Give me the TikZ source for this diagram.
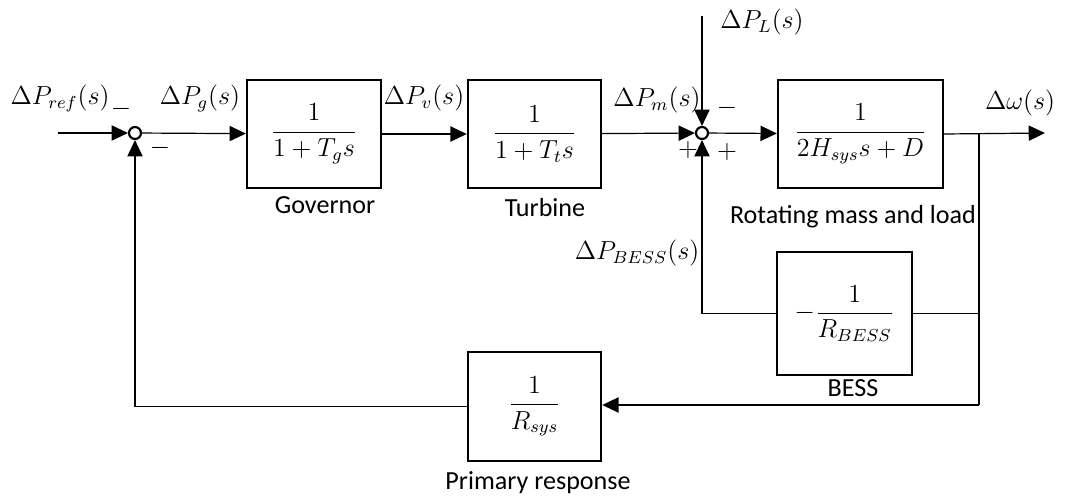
\documentclass[tikz,border=0pt]{standalone}
\usepackage{amsmath}
\usepackage{fontspec}
\setmainfont{Carlito}
\usepackage{tikz}
\usetikzlibrary{arrows.meta, positioning, calc}

\tikzset{
    block/.style={draw, line width=1.1pt, inner sep=0pt, font=\large},
    sumnode/.style={draw, circle, line width=1pt, minimum size=5.5pt, inner sep=0pt},
    sig/.style={line width=0.55pt},
    arr/.style={sig, -{Triangle[length=7.5pt, width=7pt]}},
    lbl/.style={font=\large, inner sep=0pt}
}

\begin{document}
\begin{tikzpicture}[x=0.46pt, y=-0.46pt]
    \useasboundingbox (0,0) rectangle (1068,497);

    % Summing points and signal ends
    \node[sumnode] (Sum1) at (135,133) {};
    \node[sumnode] (Sum2) at (702,133) {};
    \coordinate (Ref) at (58,133);
    \coordinate (Load) at (702,16);
    \coordinate (Out) at (1045,133);
    \coordinate (Tap) at (979,133);
    \coordinate (TapLow) at (979,405);

    % Blocks
    \node[block, minimum width=61.6pt, minimum height=49.7pt] (Gov) at (314,134) {$\dfrac{1}{1+T_g s}$};
    \node[block, minimum width=61.2pt, minimum height=49.7pt] (Turb) at (534.5,134) {$\dfrac{1}{1+T_t s}$};
    \node[block, minimum width=75.9pt, minimum height=49.7pt] (Rot) at (860.5,134) {$\dfrac{1}{2H_{sys}s+D}$};
    \node[block, minimum width=62.1pt, minimum height=56.6pt] (Bess) at (844.5,313.5) {$-\dfrac{1}{R_{BESS}}$};
    \node[block, minimum width=61.2pt, minimum height=50.1pt] (Prim) at (534.5,406.5) {$\dfrac{1}{R_{sys}}$};

    % Forward path
    \draw[arr] (Ref) -- (Sum1);
    \draw[arr] (Sum1) -- (Gov);
    \draw[arr] (Gov) -- (Turb);
    \draw[arr] (Turb) -- (Sum2);
    \draw[arr] (Load) -- (Sum2);
    \draw[arr] (Sum2) -- (Rot);
    \draw[arr] (Rot.east) -- (Out);

    % Feedback paths
    \draw[sig] (Tap) -- (TapLow);
    \draw[sig] (Bess.east) -- (Bess.east -| Tap);
    \draw[arr] (Bess.west) -| (Sum2.south);
    \draw[arr] (TapLow) -- (TapLow -| Prim.east);
    \draw[arr] (Prim.west) -| (Sum1.south);

    % Signal labels
    \node[lbl] at (60,98) {$\Delta P_{ref}(s)$};
    \node[lbl] at (200,98) {$\Delta P_g(s)$};
    \node[lbl] at (424,98) {$\Delta P_v(s)$};
    \node[lbl] at (657,100) {$\Delta P_m(s)$};
    \node[lbl] at (762,22) {$\Delta P_L(s)$};
    \node[lbl] at (1020,103) {$\Delta\omega(s)$};
    \node[lbl] at (637,253) {$\Delta P_{BESS}(s)$};

    % Signs
    \foreach \x/\y/\s in {121/109/-, 160/148/-, 727/108/-, 688/150/+, 727/152/+} {
        \node[lbl] at (\x,\y) {$\s$};
    }

    % Block names
    \node[lbl] at (325,205) {Governor};
    \node[lbl] at (545,208) {Turbine};
    \node[lbl] at (853,217) {Rotating mass and load};
    \node[lbl] at (853,388) {BESS};
    \node[lbl] at (538,483) {Primary response};
\end{tikzpicture}
\end{document}
